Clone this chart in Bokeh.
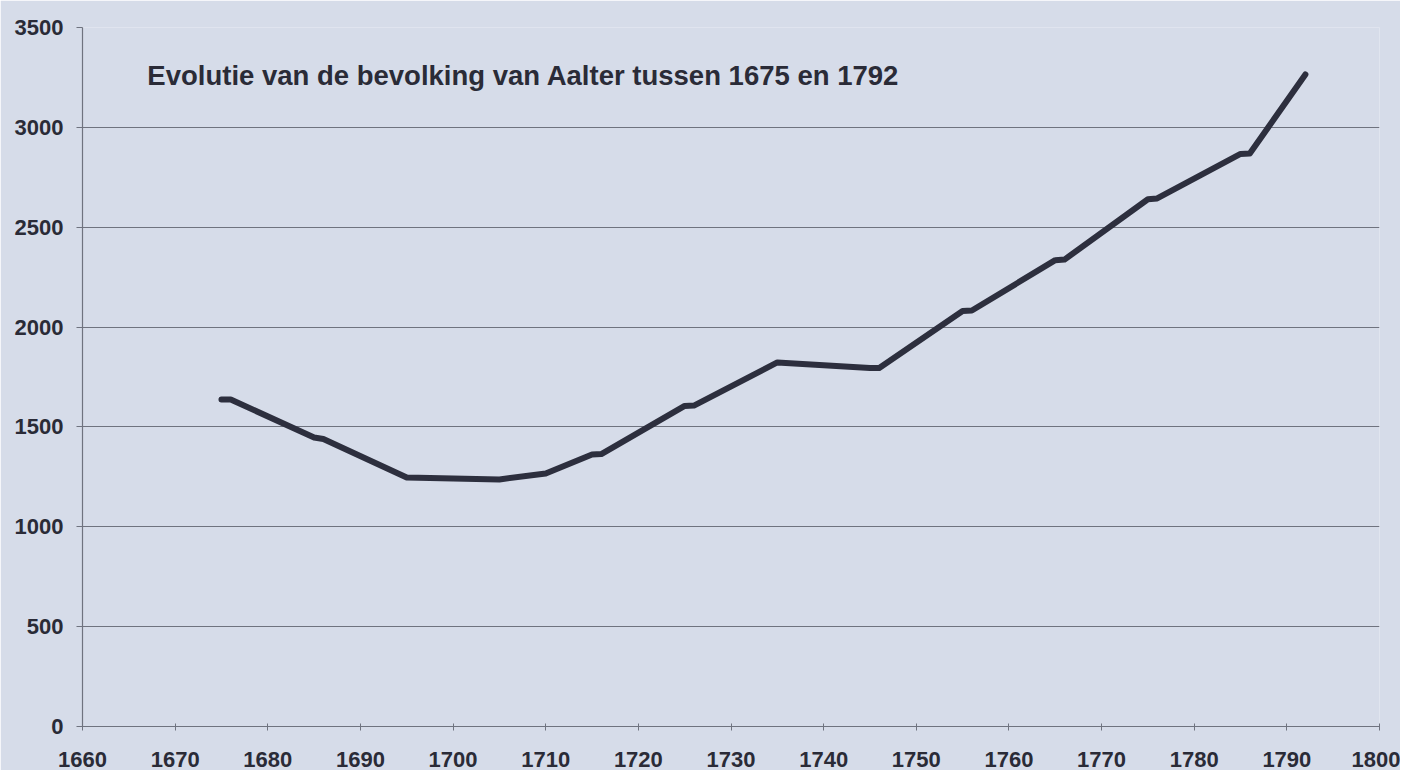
from bokeh.plotting import figure
from bokeh.models import Range1d, FixedTicker
from bokeh.core.properties import value
from bokeh.embed import file_html
from bokeh.resources import INLINE

# Data (population of Aalter)
years = [1675, 1676, 1685, 1686, 1695, 1700, 1705, 1710, 1715, 1716,
         1725, 1726, 1735, 1745, 1746, 1755, 1756, 1765, 1766,
         1775, 1776, 1785, 1786, 1792]
population = [1637, 1637, 1447, 1440, 1247, 1242, 1237, 1267, 1362, 1364,
              1605, 1607, 1823, 1795, 1795, 2080, 2083, 2335, 2338,
              2640, 2644, 2867, 2869, 3265]

x_ticks = [1660, 1670, 1680, 1690, 1700, 1710, 1720, 1730, 1740, 1750,
           1760, 1770, 1780, 1790, 1800]
y_ticks = [0, 500, 1000, 1500, 2000, 2500, 3000, 3500]
title_text = "Evolutie van de bevolking van Aalter tussen 1675 en 1792"
title_x = [1667]
title_y = [3262]

BG = "#d6dce9"
INK = "#2a2b37"
GRID = "#6f737f"
FONT = "Liberation Sans"

p = figure(width=1400, height=770, output_backend="svg", toolbar_location=None,
           x_range=Range1d(1660, 1800), y_range=Range1d(0, 3500),
           min_border_left=82, min_border_right=21, min_border_top=27,
           min_border_bottom=44)

p.background_fill_color = BG
p.border_fill_color = BG
p.outline_line_color = None

# grid
p.xgrid.grid_line_color = None
p.ygrid.ticker = FixedTicker(ticks=y_ticks)
p.ygrid.grid_line_color = GRID
p.ygrid.grid_line_width = 1.2

# axes
p.xaxis.ticker = FixedTicker(ticks=x_ticks)
p.yaxis.ticker = FixedTicker(ticks=y_ticks)
for ax in (p.xaxis[0], p.yaxis[0]):
    ax.axis_line_color = GRID
    ax.axis_line_width = 1.2
    ax.major_tick_line_color = GRID
    ax.minor_tick_line_color = None
    ax.major_label_text_font = FONT
    ax.major_label_text_font_style = "bold"
    ax.major_label_text_font_size = "22px"
    ax.major_label_text_color = INK

p.xaxis.major_tick_in = 3
p.xaxis.major_tick_out = 4
p.xaxis.major_label_standoff = 21
p.yaxis.major_tick_in = 0
p.yaxis.major_tick_out = 6
p.yaxis.major_label_standoff = 13

p.line(years, population, line_color="#2d2f3e", line_width=6,
       line_join="round", line_cap="round")

p.text(x=title_x, y=title_y, text=[title_text], text_font=value(FONT),
       text_font_style="bold", text_font_size="27.5px", text_color=INK,
       text_align="left", text_baseline="middle")

open("out.html", "w").write(file_html(p, INLINE))
